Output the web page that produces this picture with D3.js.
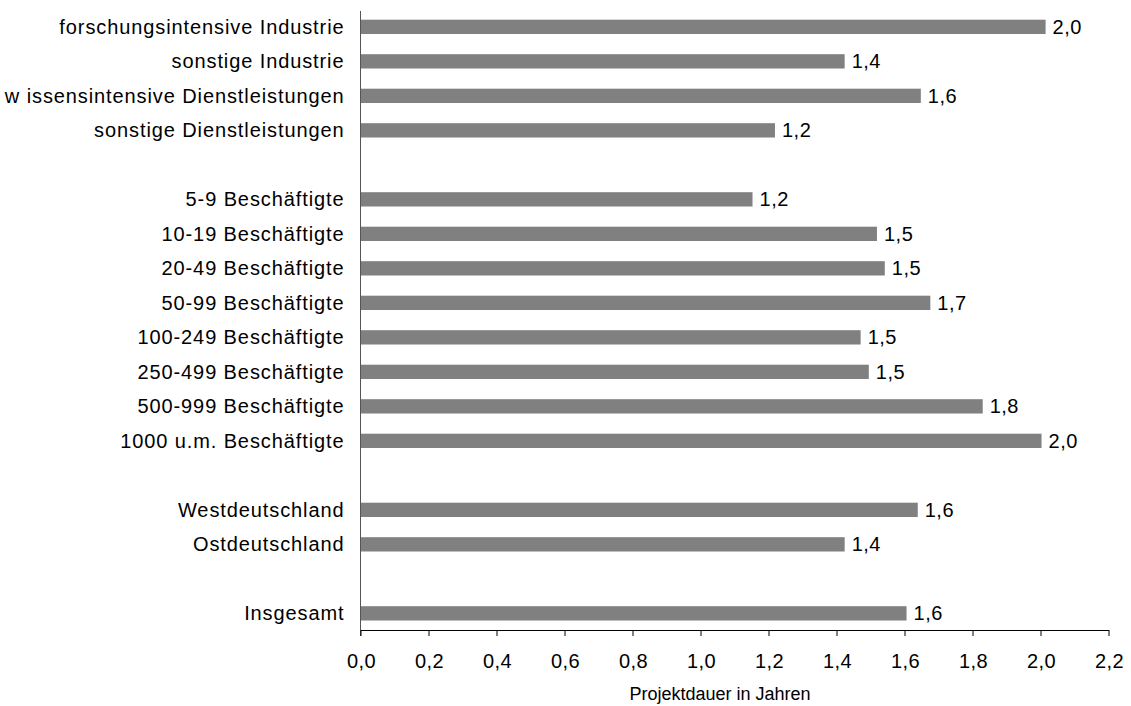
<!DOCTYPE html>
<html>
<head>
<meta charset="utf-8">
<script src="https://cdn.jsdelivr.net/npm/d3@7"></script>
<style>
  body { margin: 0; background: #fff; }
  svg { display: block; font-family: "Liberation Sans", Arial, sans-serif; }
</style>
</head>
<body>
<svg id="chart" width="1131" height="706"></svg>
<script>
// Categories (empty strings are the gaps between groups)
const categories = [
  "forschungsintensive Industrie",
  "sonstige Industrie",
  "w issensintensive Dienstleistungen",
  "sonstige Dienstleistungen",
  "",
  "5-9 Beschäftigte",
  "10-19 Beschäftigte",
  "20-49 Beschäftigte",
  "50-99 Beschäftigte",
  "100-249 Beschäftigte",
  "250-499 Beschäftigte",
  "500-999 Beschäftigte",
  "1000 u.m. Beschäftigte",
  "",
  "Westdeutschland",
  "Ostdeutschland",
  "",
  "Insgesamt"
];
// Projektdauer in Jahren (null = gap)
const values = [
  2.015, 1.424, 1.648, 1.219,
  null,
  1.153, 1.519, 1.542, 1.676, 1.471, 1.495, 1.830, 2.003,
  null,
  1.639, 1.424,
  null,
  1.606
];
const xTicks = [0, 0.2, 0.4, 0.6, 0.8, 1.0, 1.2, 1.4, 1.6, 1.8, 2.0, 2.2];
const xTitle = "Projektdauer in Jahren";

const fmt = v => v.toFixed(1).replace(".", ",");

const svg = d3.select("#chart");
const mLeft = 360.5, mRight = 1108.5, mTop = 9.6, mBottom = 630.6, axisY = 630;
const fs = 20;

const x = d3.scaleLinear().domain([0, 2.2]).range([mLeft, mRight]);
const idx = categories.map((_, i) => i);
const y = d3.scaleBand().domain(idx).range([mTop, mBottom]).paddingInner(0.585).paddingOuter(0.2925);

// Bars
svg.append("g").selectAll("rect")
  .data(idx.filter(i => values[i] != null))
  .join("rect")
  .attr("x", x(0))
  .attr("y", i => y(i))
  .attr("width", i => x(values[i]) - x(0))
  .attr("height", y.bandwidth())
  .attr("fill", "#808080");

// Value labels
svg.append("g").selectAll("text")
  .data(idx.filter(i => values[i] != null))
  .join("text")
  .attr("x", i => x(values[i]) + 7)
  .attr("y", i => y(i) + y.bandwidth() / 2)
  .attr("dy", "0.35em")
  .attr("font-size", fs)
  .attr("letter-spacing", 0.5)
  .attr("fill", "#000")
  .text(i => fmt(values[i]));

// Category labels
svg.append("g").selectAll("text")
  .data(idx.filter(i => categories[i] !== ""))
  .join("text")
  .attr("x", mLeft - 16)
  .attr("y", i => y(i) + y.bandwidth() / 2)
  .attr("dy", "0.35em")
  .attr("text-anchor", "end")
  .attr("font-size", fs)
  .attr("letter-spacing", 0.9)
  .attr("fill", "#000")
  .text(i => categories[i]);

// Y axis line
svg.append("line")
  .attr("x1", mLeft).attr("x2", mLeft)
  .attr("y1", 11).attr("y2", axisY + 6)
  .attr("stroke", "#555").attr("stroke-width", 1);

// X axis
const xAxis = d3.axisBottom(x).tickValues(xTicks).tickFormat(fmt).tickSize(6).tickSizeOuter(0);
const gx = svg.append("g").attr("transform", `translate(0,${axisY})`).call(xAxis);
gx.select(".domain").attr("stroke", "#000");
gx.selectAll(".tick line").attr("stroke", "#000");
gx.selectAll(".tick text")
  .attr("font-size", fs)
  .attr("font-family", "'Liberation Sans', Arial, sans-serif")
  .attr("letter-spacing", 0.4)
  .attr("fill", "#000")
  .attr("x", 0.5)
  .attr("dy", null)
  .attr("y", 37.5);

// X title
svg.append("text")
  .attr("x", 720)
  .attr("y", 700)
  .attr("text-anchor", "middle")
  .attr("font-size", 18)
  .attr("fill", "#000")
  .text(xTitle);
</script>
</body>
</html>
